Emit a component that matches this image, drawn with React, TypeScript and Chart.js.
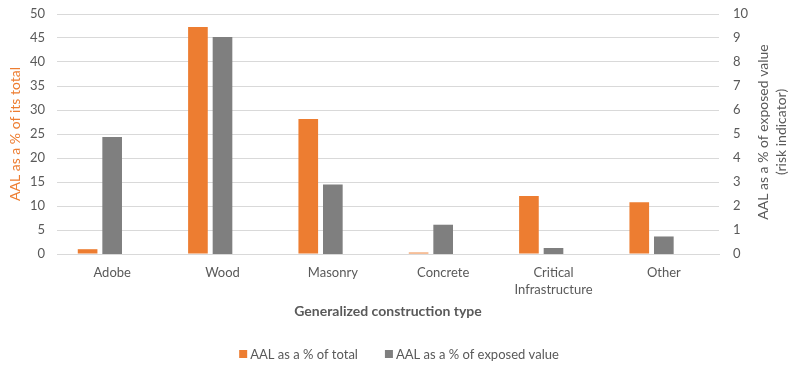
import React, { useEffect, useRef } from 'react';
import { Chart, registerables } from 'chart.js';

Chart.register(...registerables);

// Construction types along the category axis
const categories: (string | string[])[] = [
  'Adobe',
  'Wood',
  'Masonry',
  'Concrete',
  ['Critical', 'Infrastructure'],
  'Other',
];

// AAL as a % of the total (left axis)
const aalShareOfTotal = [1.0, 47.3, 28.1, 0.3, 12.1, 10.8];

// AAL as a % of exposed value (right axis)
const aalShareOfExposed = [4.87, 9.04, 2.9, 1.22, 0.25, 0.73];

// Empty third slot in each group, so the two bars sit left of the category centre
const emptySlot = [null, null, null, null, null, null];

const leftAxisMax = 50;
const leftAxisStep = 5;
const rightAxisMax = 10;
const rightAxisStep = 1;

const ORANGE = '#ED7D31';
const GREY = '#7F7F7F';
const TEXT = '#595959';
const GRID = '#D9D9D9';
const FONT = 'Lato, "Open Sans", sans-serif';

const rightTitleLines = ['AAL as a % of exposed value', '(risk indicator)'];

// Draws the right-hand axis title reading bottom-to-top, on two lines
const rightTitlePlugin = {
  id: 'rightTitle',
  afterDraw(chart: Chart) {
    const { ctx, chartArea } = chart;
    const cy = (chartArea.top + chartArea.bottom) / 2 - 2;
    ctx.save();
    ctx.fillStyle = TEXT;
    ctx.font = `14px ${FONT}`;
    ctx.textAlign = 'center';
    ctx.textBaseline = 'middle';
    const xs = [763, 781];
    rightTitleLines.forEach((line, i) => {
      ctx.save();
      ctx.translate(xs[i], cy);
      ctx.rotate(-Math.PI / 2);
      ctx.fillText(line, 0, 0);
      ctx.restore();
    });
    ctx.restore();
  },
};

// Compact legend along the bottom: small square swatch, tight gap to its label
const bottomLegendPlugin = {
  id: 'bottomLegend',
  afterDraw(chart: Chart) {
    const { ctx } = chart;
    const items = chart.data.datasets
      .filter((ds) => ds.label)
      .map((ds) => ({ text: ds.label as string, color: ds.backgroundColor as string }));
    const box = 8;
    const gap = 3;
    const itemGap = 27;
    const centerX = 399;
    const y = 354;
    ctx.save();
    ctx.font = `13px ${FONT}`;
    ctx.textBaseline = 'middle';
    ctx.textAlign = 'left';
    const widths = items.map((it) => ctx.measureText(it.text).width);
    const total =
      widths.reduce((s, w) => s + box + gap + w, 0) + itemGap * (items.length - 1);
    let x = centerX - total / 2;
    items.forEach((it, i) => {
      ctx.fillStyle = it.color;
      ctx.fillRect(x, y - box / 2, box, box);
      ctx.fillStyle = TEXT;
      ctx.fillText(it.text, x + box + gap, y + 0.5);
      x += box + gap + widths[i] + itemGap;
    });
    ctx.restore();
  },
};

export default function App() {
  const canvasRef = useRef<HTMLCanvasElement | null>(null);

  useEffect(() => {
    document.body.style.margin = '0';
    const canvas = canvasRef.current;
    if (!canvas) return;

    const chart = new Chart(canvas, {
      type: 'bar',
      data: {
        labels: categories,
        datasets: [
          {
            label: 'AAL as a % of total',
            data: aalShareOfTotal,
            backgroundColor: ORANGE,
            yAxisID: 'yLeft',
            barPercentage: 0.8,
            categoryPercentage: 0.668,
          },
          {
            label: 'AAL as a % of exposed value',
            data: aalShareOfExposed,
            backgroundColor: GREY,
            yAxisID: 'yRight',
            barPercentage: 0.8,
            categoryPercentage: 0.668,
          },
          {
            label: '',
            data: emptySlot,
            backgroundColor: 'rgba(0,0,0,0)',
            yAxisID: 'yRight',
            barPercentage: 0.8,
            categoryPercentage: 0.668,
          },
        ],
      },
      options: {
        animation: false,
        responsive: false,
        maintainAspectRatio: false,
        layout: { padding: { top: 14, left: 0, right: 0, bottom: 45 } },
        plugins: {
          tooltip: { enabled: false },
          legend: { display: false },
        },
        scales: {
          x: {
            grid: { display: false, drawTicks: false },
            border: { display: true, color: GRID, width: 1 },
            ticks: {
              color: TEXT,
              font: { family: FONT, size: 13, lineHeight: 1.3 },
              padding: 10,
              maxRotation: 0,
              autoSkip: false,
            },
            title: {
              display: true,
              text: 'Generalized construction type',
              color: TEXT,
              font: { family: FONT, size: 14, weight: 'bold' },
              padding: { top: 0, bottom: 0 },
            },
            afterFit(scale: any) {
              scale.height = 66;
              scale.paddingLeft = 0;
              scale.paddingRight = 0;
            },
          },
          yLeft: {
            type: 'linear',
            position: 'left',
            min: 0,
            max: leftAxisMax,
            grid: { color: GRID, drawTicks: false },
            border: { display: false },
            ticks: {
              stepSize: leftAxisStep,
              color: TEXT,
              font: { family: FONT, size: 13 },
              padding: 12,
            },
            title: {
              display: true,
              text: 'AAL as a % of its total',
              color: ORANGE,
              font: { family: FONT, size: 14 },
              padding: { top: 7, bottom: 0 },
            },
            afterFit(scale: any) {
              scale.width = 57;
              scale.paddingTop = 0;
              scale.paddingBottom = 0;
            },
          },
          yRight: {
            type: 'linear',
            position: 'right',
            min: 0,
            max: rightAxisMax,
            grid: { display: false, drawTicks: false },
            border: { display: false },
            ticks: {
              stepSize: rightAxisStep,
              color: TEXT,
              font: { family: FONT, size: 13 },
              padding: 14,
            },
            afterFit(scale: any) {
              scale.width = 69;
              scale.paddingTop = 0;
              scale.paddingBottom = 0;
            },
          },
        },
      },
      plugins: [rightTitlePlugin, bottomLegendPlugin],
    });

    return () => chart.destroy();
  }, []);

  return (
    <div style={{ width: 788, height: 365, background: '#fff' }}>
      <canvas ref={canvasRef} width={788} height={365} style={{ display: 'block' }} />
    </div>
  );
}
